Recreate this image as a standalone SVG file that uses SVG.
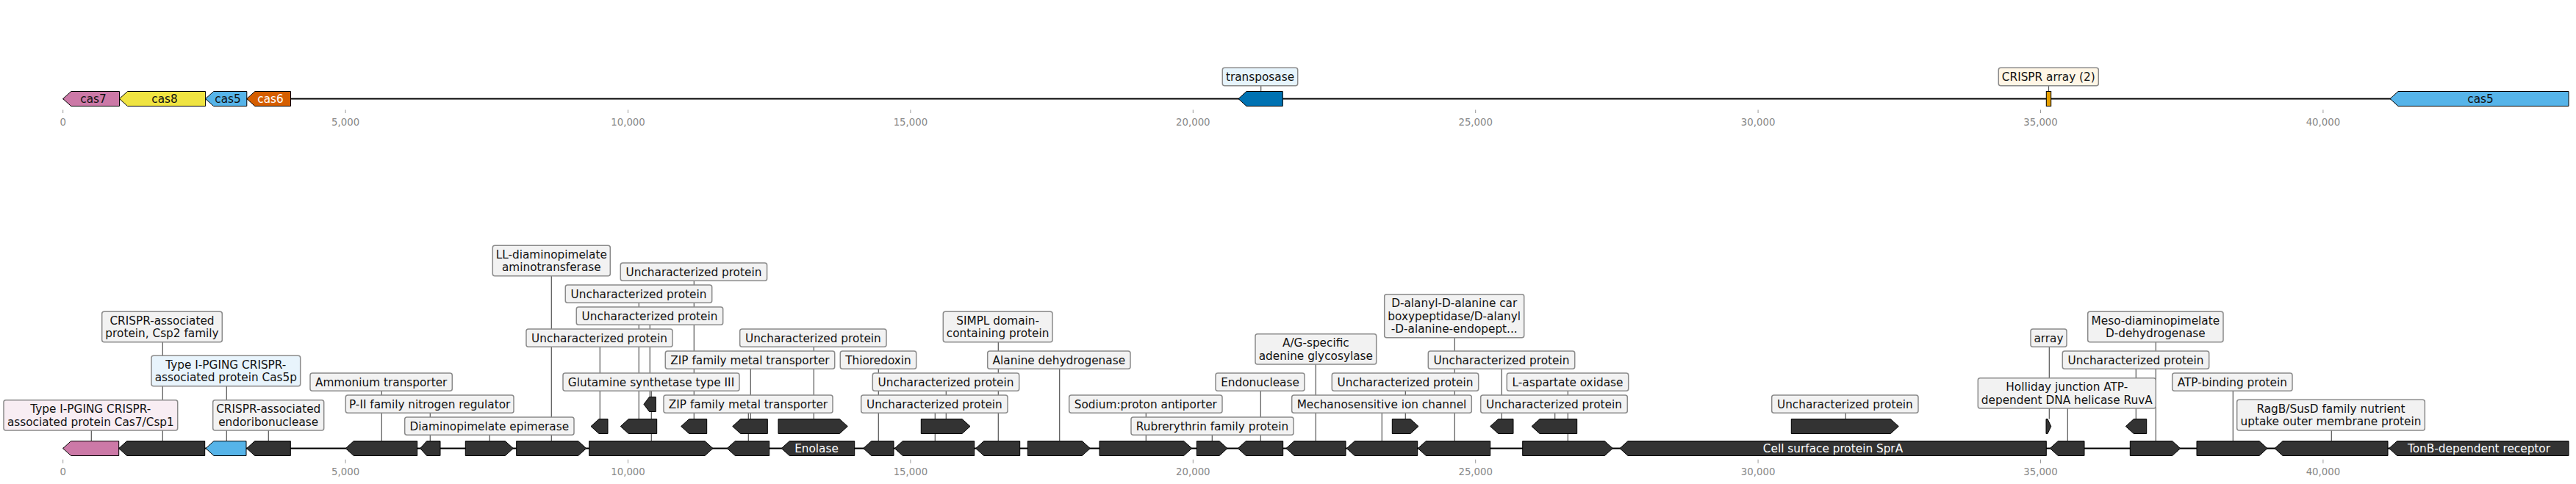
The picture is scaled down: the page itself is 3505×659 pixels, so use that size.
<svg xmlns="http://www.w3.org/2000/svg" width="3505" height="659" viewBox="0 0 3505 659">
<style>
text{font-family:"DejaVu Sans","Liberation Sans",sans-serif}
.bb{stroke:#000;stroke-width:2;fill:none}
.cn{stroke:#555;stroke-width:1.2;fill:none}
.g{fill:#333;stroke:#000;stroke-width:1}
.lb{fill:#f2f2f2;stroke:#8a8a8a;stroke-width:1.5}
.lt{font-size:15.3px;fill:#111;text-anchor:middle}
.gt{font-size:15.3px;fill:#111;text-anchor:middle}
.wt{font-size:15.3px;fill:#fff;text-anchor:middle}
.tk{stroke:#999;stroke-width:1}
.tl{font-size:13.3px;fill:#888;text-anchor:middle}
</style>
<rect width="3505" height="659" fill="#fff"/>

<g id="axes">
<line class="tk" x1="85.7" y1="149.5" x2="85.7" y2="154"/><text class="tl" x="85.7" y="170.7">0</text>
<line class="tk" x1="470.1" y1="149.5" x2="470.1" y2="154"/><text class="tl" x="470.1" y="170.7">5,000</text>
<line class="tk" x1="854.5" y1="149.5" x2="854.5" y2="154"/><text class="tl" x="854.5" y="170.7">10,000</text>
<line class="tk" x1="1238.9" y1="149.5" x2="1238.9" y2="154"/><text class="tl" x="1238.9" y="170.7">15,000</text>
<line class="tk" x1="1623.3" y1="149.5" x2="1623.3" y2="154"/><text class="tl" x="1623.3" y="170.7">20,000</text>
<line class="tk" x1="2007.7" y1="149.5" x2="2007.7" y2="154"/><text class="tl" x="2007.7" y="170.7">25,000</text>
<line class="tk" x1="2392.1" y1="149.5" x2="2392.1" y2="154"/><text class="tl" x="2392.1" y="170.7">30,000</text>
<line class="tk" x1="2776.5" y1="149.5" x2="2776.5" y2="154"/><text class="tl" x="2776.5" y="170.7">35,000</text>
<line class="tk" x1="3160.9" y1="149.5" x2="3160.9" y2="154"/><text class="tl" x="3160.9" y="170.7">40,000</text>
<line class="tk" x1="85.7" y1="625.7" x2="85.7" y2="630.7"/><text class="tl" x="85.7" y="647.3">0</text>
<line class="tk" x1="470.1" y1="625.7" x2="470.1" y2="630.7"/><text class="tl" x="470.1" y="647.3">5,000</text>
<line class="tk" x1="854.5" y1="625.7" x2="854.5" y2="630.7"/><text class="tl" x="854.5" y="647.3">10,000</text>
<line class="tk" x1="1238.9" y1="625.7" x2="1238.9" y2="630.7"/><text class="tl" x="1238.9" y="647.3">15,000</text>
<line class="tk" x1="1623.3" y1="625.7" x2="1623.3" y2="630.7"/><text class="tl" x="1623.3" y="647.3">20,000</text>
<line class="tk" x1="2007.7" y1="625.7" x2="2007.7" y2="630.7"/><text class="tl" x="2007.7" y="647.3">25,000</text>
<line class="tk" x1="2392.1" y1="625.7" x2="2392.1" y2="630.7"/><text class="tl" x="2392.1" y="647.3">30,000</text>
<line class="tk" x1="2776.5" y1="625.7" x2="2776.5" y2="630.7"/><text class="tl" x="2776.5" y="647.3">35,000</text>
<line class="tk" x1="3160.9" y1="625.7" x2="3160.9" y2="630.7"/><text class="tl" x="3160.9" y="647.3">40,000</text>
</g>

<g id="connectors">
<line class="bb" x1="85.7" y1="134.5" x2="3495" y2="134.5"/>
<line class="bb" x1="85.7" y1="610.5" x2="3495" y2="610.5"/>
<line class="cn" x1="1715.7" y1="116.7" x2="1715.7" y2="124.5"/>
<line class="cn" x1="2787.5" y1="116.7" x2="2787.5" y2="124.5"/>
<line class="cn" x1="124.3" y1="586" x2="124.3" y2="600.5"/>
<line class="cn" x1="221.3" y1="465.7" x2="221.3" y2="600.5"/>
<line class="cn" x1="308.3" y1="525.7" x2="308.3" y2="600.5"/>
<line class="cn" x1="365.3" y1="586" x2="365.3" y2="600.5"/>
<line class="cn" x1="519.3" y1="532.3" x2="519.3" y2="600.5"/>
<line class="cn" x1="585.3" y1="562.3" x2="585.3" y2="600.5"/>
<line class="cn" x1="666.3" y1="592.3" x2="666.3" y2="600.5"/>
<line class="cn" x1="750.3" y1="375.7" x2="750.3" y2="600.5"/>
<line class="cn" x1="886.3" y1="532.3" x2="886.3" y2="600.5"/>
<line class="cn" x1="1018.3" y1="562.3" x2="1018.3" y2="600.5"/>
<line class="cn" x1="1195.3" y1="502.3" x2="1195.3" y2="600.5"/>
<line class="cn" x1="1272.3" y1="562.3" x2="1272.3" y2="600.5"/>
<line class="cn" x1="1358.3" y1="465.7" x2="1358.3" y2="600.5"/>
<line class="cn" x1="1441.7" y1="502.3" x2="1441.7" y2="600.5"/>
<line class="cn" x1="1559.3" y1="562.3" x2="1559.3" y2="600.5"/>
<line class="cn" x1="1649.3" y1="592.3" x2="1649.3" y2="600.5"/>
<line class="cn" x1="1715.3" y1="532.3" x2="1715.3" y2="600.5"/>
<line class="cn" x1="1790.3" y1="496" x2="1790.3" y2="600.5"/>
<line class="cn" x1="1880.3" y1="562.3" x2="1880.3" y2="600.5"/>
<line class="cn" x1="1979.3" y1="459.7" x2="1979.3" y2="600.5"/>
<line class="cn" x1="2133.3" y1="532.3" x2="2133.3" y2="600.5"/>
<line class="cn" x1="2813.3" y1="556" x2="2813.3" y2="600.5"/>
<line class="cn" x1="2933.3" y1="465.7" x2="2933.3" y2="600.5"/>
<line class="cn" x1="3038.3" y1="532.3" x2="3038.3" y2="600.5"/>
<line class="cn" x1="3172.3" y1="586" x2="3172.3" y2="600.5"/>
<line class="cn" x1="816.3" y1="472.3" x2="816.3" y2="570.5"/>
<line class="cn" x1="869.3" y1="412.3" x2="869.3" y2="570.5"/>
<line class="cn" x1="944.3" y1="382.3" x2="944.3" y2="570.5"/>
<line class="cn" x1="1021.3" y1="502.3" x2="1021.3" y2="570.5"/>
<line class="cn" x1="1107.3" y1="472.3" x2="1107.3" y2="570.5"/>
<line class="cn" x1="1287.3" y1="532.3" x2="1287.3" y2="570.5"/>
<line class="cn" x1="1912.3" y1="532.3" x2="1912.3" y2="570.5"/>
<line class="cn" x1="2043.3" y1="502.3" x2="2043.3" y2="570.5"/>
<line class="cn" x1="2115.7" y1="562.3" x2="2115.7" y2="570.5"/>
<line class="cn" x1="2511.3" y1="562.3" x2="2511.3" y2="570.5"/>
<line class="cn" x1="2788.3" y1="472.3" x2="2788.3" y2="570.5"/>
<line class="cn" x1="2906.3" y1="502.3" x2="2906.3" y2="570.5"/>
<line class="cn" x1="884.3" y1="442.3" x2="884.3" y2="540.5"/>
</g>

<g id="top-genes">
<g id="cas7"><polygon points="85.7,134.5 96.7,124.5 162.5,124.5 162.5,144.5 96.7,144.5" fill="#CC79A7" stroke="#000"/><text class="gt" x="127" y="140">cas7</text></g>
<g id="cas8"><polygon points="162.5,134.5 173.5,124.5 279.6,124.5 279.6,144.5 173.5,144.5" fill="#F0E442" stroke="#000"/><text class="gt" x="224" y="140">cas8</text></g>
<g id="cas5a"><polygon points="279.6,134.5 290.6,124.5 335.8,124.5 335.8,144.5 290.6,144.5" fill="#56B4E9" stroke="#000"/><text class="gt" x="310" y="140">cas5</text></g>
<g id="cas6"><polygon points="335.8,134.5 346.8,124.5 395.5,124.5 395.5,144.5 346.8,144.5" fill="#D55E00" stroke="#000"/><text class="wt" x="368" y="140">cas6</text></g>
<g id="transposase"><polygon points="1685,134.5 1696,124.5 1745.3,124.5 1745.3,144.5 1696,144.5" fill="#0072B2" stroke="#000"/>
<rect x="1663.3" y="92.3" width="102.4" height="24.4" rx="3" fill="#e6f4fc" stroke="#8a8a8a" stroke-width="1.5"/><text class="lt" x="1714.5" y="110">transposase</text></g>
<g id="crispr-array"><rect x="2784.3" y="124.5" width="6.4" height="20" fill="#E69F00" stroke="#000"/>
<rect x="2719.3" y="92.3" width="136" height="24.4" rx="3" fill="#fff6e6" stroke="#8a8a8a" stroke-width="1.5"/><text class="lt" x="2787.3" y="110">CRISPR array (2)</text></g>
<g id="cas5b"><polygon points="3252,134.5 3263,124.5 3495,124.5 3495,144.5 3263,144.5" fill="#56B4E9" stroke="#000"/><text class="gt" x="3375" y="140">cas5</text></g>
</g>

<g id="bottom-genes">
<polygon points="85.7,610.5 96.7,600.5 161.7,600.5 161.7,620.5 96.7,620.5" fill="#CC79A7" stroke="#000"/>
<polygon class="g" points="161.7,610.5 172.7,600.5 278.7,600.5 278.7,620.5 172.7,620.5"/>
<polygon points="280,610.5 291,600.5 335,600.5 335,620.5 291,620.5" fill="#56B4E9" stroke="#000"/>
<polygon class="g" points="335.7,610.5 346.7,600.5 395.3,600.5 395.3,620.5 346.7,620.5"/>
<polygon class="g" points="470.3,610.5 481.3,600.5 567.7,600.5 567.7,620.5 481.3,620.5"/>
<polygon class="g" points="571.7,610.5 580.7,600.5 599,600.5 599,620.5 580.7,620.5"/>
<polygon class="g" points="633.3,600.5 687.3,600.5 698.3,610.5 687.3,620.5 633.3,620.5"/>
<polygon class="g" points="702.7,600.5 786.7,600.5 797.7,610.5 786.7,620.5 702.7,620.5"/>
<polygon class="g" points="801.7,600.5 959,600.5 970,610.5 959,620.5 801.7,620.5"/>
<polygon class="g" points="989.3,610.5 1000.3,600.5 1046.7,600.5 1046.7,620.5 1000.3,620.5"/>
<g id="enolase"><polygon class="g" points="1063.3,610.5 1074.3,600.5 1162.7,600.5 1162.7,620.5 1074.3,620.5"/><text class="wt" x="1111" y="616">Enolase</text></g>
<polygon class="g" points="1174.7,610.5 1185.7,600.5 1216,600.5 1216,620.5 1185.7,620.5"/>
<polygon class="g" points="1217.3,610.5 1228.3,600.5 1325.7,600.5 1325.7,620.5 1228.3,620.5"/>
<polygon class="g" points="1327.7,610.5 1338.7,600.5 1387.7,600.5 1387.7,620.5 1338.7,620.5"/>
<polygon class="g" points="1398.3,600.5 1472.3,600.5 1483.3,610.5 1472.3,620.5 1398.3,620.5"/>
<polygon class="g" points="1496,600.5 1610.7,600.5 1621.7,610.5 1610.7,620.5 1496,620.5"/>
<polygon class="g" points="1628.3,600.5 1659,600.5 1670,610.5 1659,620.5 1628.3,620.5"/>
<polygon class="g" points="1684.3,610.5 1695.3,600.5 1745.7,600.5 1745.7,620.5 1695.3,620.5"/>
<polygon class="g" points="1750,610.5 1761,600.5 1831,600.5 1831,620.5 1761,620.5"/>
<polygon class="g" points="1832.3,610.5 1843.3,600.5 1928.7,600.5 1928.7,620.5 1843.3,620.5"/>
<polygon class="g" points="1929.3,610.5 1940.3,600.5 2027.7,600.5 2027.7,620.5 1940.3,620.5"/>
<polygon class="g" points="2071.7,600.5 2183.3,600.5 2194.3,610.5 2183.3,620.5 2071.7,620.5"/>
<g id="sprA"><polygon class="g" points="2204,610.5 2215,600.5 2784.3,600.5 2784.3,620.5 2215,620.5"/><text class="wt" x="2494" y="616">Cell surface protein SprA</text></g>
<polygon class="g" points="2789.3,610.5 2800.3,600.5 2836,600.5 2836,620.5 2800.3,620.5"/>
<polygon class="g" points="2898.3,600.5 2955.7,600.5 2966.7,610.5 2955.7,620.5 2898.3,620.5"/>
<polygon class="g" points="2989,600.5 3074,600.5 3085,610.5 3074,620.5 2989,620.5"/>
<polygon class="g" points="3095,610.5 3106,600.5 3249,600.5 3249,620.5 3106,620.5"/>
<g id="tonB"><polygon class="g" points="3250.7,610.5 3261.7,600.5 3495,600.5 3495,620.5 3261.7,620.5"/><text class="wt" x="3373" y="616">TonB-dependent receptor</text></g>
<polygon class="g" points="804,580.5 815,570.5 827,570.5 827,590.5 815,590.5"/>
<polygon class="g" points="844.3,580.5 855.3,570.5 893.7,570.5 893.7,590.5 855.3,590.5"/>
<polygon class="g" points="926.7,580.5 937.7,570.5 961.7,570.5 961.7,590.5 937.7,590.5"/>
<polygon class="g" points="996.7,580.5 1007.7,570.5 1044.3,570.5 1044.3,590.5 1007.7,590.5"/>
<polygon class="g" points="1059,570.5 1142.3,570.5 1153.3,580.5 1142.3,590.5 1059,590.5"/>
<polygon class="g" points="1253.3,570.5 1309,570.5 1320,580.5 1309,590.5 1253.3,590.5"/>
<polygon class="g" points="1894.3,570.5 1919,570.5 1930,580.5 1919,590.5 1894.3,590.5"/>
<polygon class="g" points="2027.7,580.5 2038.7,570.5 2059,570.5 2059,590.5 2038.7,590.5"/>
<polygon class="g" points="2084,580.5 2095,570.5 2145.7,570.5 2145.7,590.5 2095,590.5"/>
<polygon class="g" points="2437.3,570.5 2572.3,570.5 2583.3,580.5 2572.3,590.5 2437.3,590.5"/>
<polygon class="g" points="2784,570.5 2786,570.5 2790.7,580.5 2786,590.5 2784,590.5"/>
<polygon class="g" points="2892.3,580.5 2903.3,570.5 2920.7,570.5 2920.7,590.5 2903.3,590.5"/>
<polygon class="g" points="876,550.5 883.5,540.5 892.3,540.5 892.3,560.5 883.5,560.5"/>
</g>

<g id="labels">
<g id="L1"><rect x="5" y="544.7" width="236.7" height="41.3" rx="3" fill="#f8edf3" stroke="#8a8a8a" stroke-width="1.5"/><text class="lt"><tspan x="123.35" y="562.2">Type I-PGING CRISPR-</tspan><tspan x="123.35" y="579.5">associated protein Cas7/Csp1</tspan></text></g>
<g id="L2"><rect class="lb" x="138.7" y="424.3" width="163.6" height="41.4" rx="3"/><text class="lt"><tspan x="220.5" y="441.85">CRISPR-associated</tspan><tspan x="220.5" y="459.15">protein, Csp2 family</tspan></text></g>
<g id="L3"><rect x="206" y="484.3" width="202.7" height="41.4" rx="3" fill="#e8f4fc" stroke="#8a8a8a" stroke-width="1.5"/><text class="lt"><tspan x="307.35" y="501.85">Type I-PGING CRISPR-</tspan><tspan x="307.35" y="519.15">associated protein Cas5p</tspan></text></g>
<g id="L4"><rect class="lb" x="289.7" y="544.7" width="151" height="41.3" rx="3"/><text class="lt"><tspan x="365.2" y="562.2">CRISPR-associated</tspan><tspan x="365.2" y="579.5">endoribonuclease</tspan></text></g>
<g id="L5"><rect class="lb" x="422" y="508" width="193.3" height="24.3" rx="3"/><text class="lt" x="518.65" y="525.65">Ammonium transporter</text></g>
<g id="L6"><rect class="lb" x="470.3" y="538" width="228.7" height="24.3" rx="3"/><text class="lt" x="584.65" y="555.65">P-II family nitrogen regulator</text></g>
<g id="L7"><rect class="lb" x="550.7" y="568" width="230.3" height="24.3" rx="3"/><text class="lt" x="665.85" y="585.65">Diaminopimelate epimerase</text></g>
<g id="L8"><rect class="lb" x="670.3" y="334.3" width="160" height="41.4" rx="3"/><text class="lt"><tspan x="750.3" y="351.85">LL-diaminopimelate</tspan><tspan x="750.3" y="369.15">aminotransferase</tspan></text></g>
<g id="L9"><rect class="lb" x="844.3" y="358" width="199.3" height="24.3" rx="3"/><text class="lt" x="943.95" y="375.65">Uncharacterized protein</text></g>
<g id="L10"><rect class="lb" x="769.3" y="388" width="199.4" height="24.3" rx="3"/><text class="lt" x="869" y="405.65">Uncharacterized protein</text></g>
<g id="L11"><rect class="lb" x="784.3" y="418" width="199.4" height="24.3" rx="3"/><text class="lt" x="884" y="435.65">Uncharacterized protein</text></g>
<g id="L12"><rect class="lb" x="716" y="448" width="199" height="24.3" rx="3"/><text class="lt" x="815.5" y="465.65">Uncharacterized protein</text></g>
<g id="L13"><rect class="lb" x="1006.7" y="448" width="199.3" height="24.3" rx="3"/><text class="lt" x="1106.35" y="465.65">Uncharacterized protein</text></g>
<g id="L14"><rect class="lb" x="905.3" y="478" width="230.4" height="24.3" rx="3"/><text class="lt" x="1020.5" y="495.65">ZIP family metal transporter</text></g>
<g id="L15"><rect class="lb" x="1143.3" y="478" width="103.4" height="24.3" rx="3"/><text class="lt" x="1195" y="495.65">Thioredoxin</text></g>
<g id="L16"><rect class="lb" x="766" y="508" width="240" height="24.3" rx="3"/><text class="lt" x="886" y="525.65">Glutamine synthetase type III</text></g>
<g id="L17"><rect class="lb" x="1187.3" y="508" width="199.4" height="24.3" rx="3"/><text class="lt" x="1287" y="525.65">Uncharacterized protein</text></g>
<g id="L18"><rect class="lb" x="903" y="538" width="230" height="24.3" rx="3"/><text class="lt" x="1018" y="555.65">ZIP family metal transporter</text></g>
<g id="L19"><rect class="lb" x="1171.7" y="538" width="199.3" height="24.3" rx="3"/><text class="lt" x="1271.35" y="555.65">Uncharacterized protein</text></g>
<g id="L20"><rect class="lb" x="1283.3" y="424.3" width="148.7" height="41.4" rx="3"/><text class="lt"><tspan x="1357.65" y="441.85">SIMPL domain-</tspan><tspan x="1357.65" y="459.15">containing protein</tspan></text></g>
<g id="L21"><rect class="lb" x="1343.7" y="478" width="194.3" height="24.3" rx="3"/><text class="lt" x="1440.85" y="495.65">Alanine dehydrogenase</text></g>
<g id="L22"><rect class="lb" x="1454.7" y="538" width="208.3" height="24.3" rx="3"/><text class="lt" x="1558.85" y="555.65">Sodium:proton antiporter</text></g>
<g id="L23"><rect class="lb" x="1539" y="568" width="221" height="24.3" rx="3"/><text class="lt" x="1649.5" y="585.65">Rubrerythrin family protein</text></g>
<g id="L24"><rect class="lb" x="1654" y="508" width="121" height="24.3" rx="3"/><text class="lt" x="1714.5" y="525.65">Endonuclease</text></g>
<g id="L25"><rect class="lb" x="1708" y="454.7" width="164.7" height="41.3" rx="3"/><text class="lt"><tspan x="1790.35" y="472.2">A/G-specific</tspan><tspan x="1790.35" y="489.5">adenine glycosylase</tspan></text></g>
<g id="L26"><rect class="lb" x="1757.7" y="538" width="244.6" height="24.3" rx="3"/><text class="lt" x="1880" y="555.65">Mechanosensitive ion channel</text></g>
<g id="L27"><rect class="lb" x="1812.3" y="508" width="199.4" height="24.3" rx="3"/><text class="lt" x="1912" y="525.65">Uncharacterized protein</text></g>
<g id="L28"><rect class="lb" x="1883.7" y="400.7" width="190" height="59" rx="3"/><text class="lt"><tspan x="1978.7" y="418.4">D-alanyl-D-alanine car</tspan><tspan x="1978.7" y="435.7">boxypeptidase/D-alanyl</tspan><tspan x="1978.7" y="453">-D-alanine-endopept...</tspan></text></g>
<g id="L29"><rect class="lb" x="1943.3" y="478" width="199.4" height="24.3" rx="3"/><text class="lt" x="2043" y="495.65">Uncharacterized protein</text></g>
<g id="L30"><rect class="lb" x="2050.3" y="508" width="165.4" height="24.3" rx="3"/><text class="lt" x="2133" y="525.65">L-aspartate oxidase</text></g>
<g id="L31"><rect class="lb" x="2014.7" y="538" width="199.6" height="24.3" rx="3"/><text class="lt" x="2114.5" y="555.65">Uncharacterized protein</text></g>
<g id="L32"><rect class="lb" x="2410.7" y="538" width="199.3" height="24.3" rx="3"/><text class="lt" x="2510.35" y="555.65">Uncharacterized protein</text></g>
<g id="L33"><rect class="lb" x="2763" y="448" width="49" height="24.3" rx="3"/><text class="lt" x="2787.5" y="465.65">array</text></g>
<g id="L34"><rect class="lb" x="2691.3" y="514.7" width="242" height="41.3" rx="3"/><text class="lt"><tspan x="2812.3" y="532.2">Holliday junction ATP-</tspan><tspan x="2812.3" y="549.5">dependent DNA helicase RuvA</tspan></text></g>
<g id="L35"><rect class="lb" x="2806.3" y="478" width="199.4" height="24.3" rx="3"/><text class="lt" x="2906" y="495.65">Uncharacterized protein</text></g>
<g id="L36"><rect class="lb" x="2840.7" y="424.3" width="184.3" height="41.4" rx="3"/><text class="lt"><tspan x="2932.85" y="441.85">Meso-diaminopimelate</tspan><tspan x="2932.85" y="459.15">D-dehydrogenase</tspan></text></g>
<g id="L37"><rect class="lb" x="2955.7" y="508" width="163.3" height="24.3" rx="3"/><text class="lt" x="3037.35" y="525.65">ATP-binding protein</text></g>
<g id="L38"><rect class="lb" x="3043.7" y="544.3" width="255.6" height="41.7" rx="3"/><text class="lt"><tspan x="3171.5" y="562">RagB/SusD family nutrient</tspan><tspan x="3171.5" y="579.3">uptake outer membrane protein</tspan></text></g>
</g>
</svg>
